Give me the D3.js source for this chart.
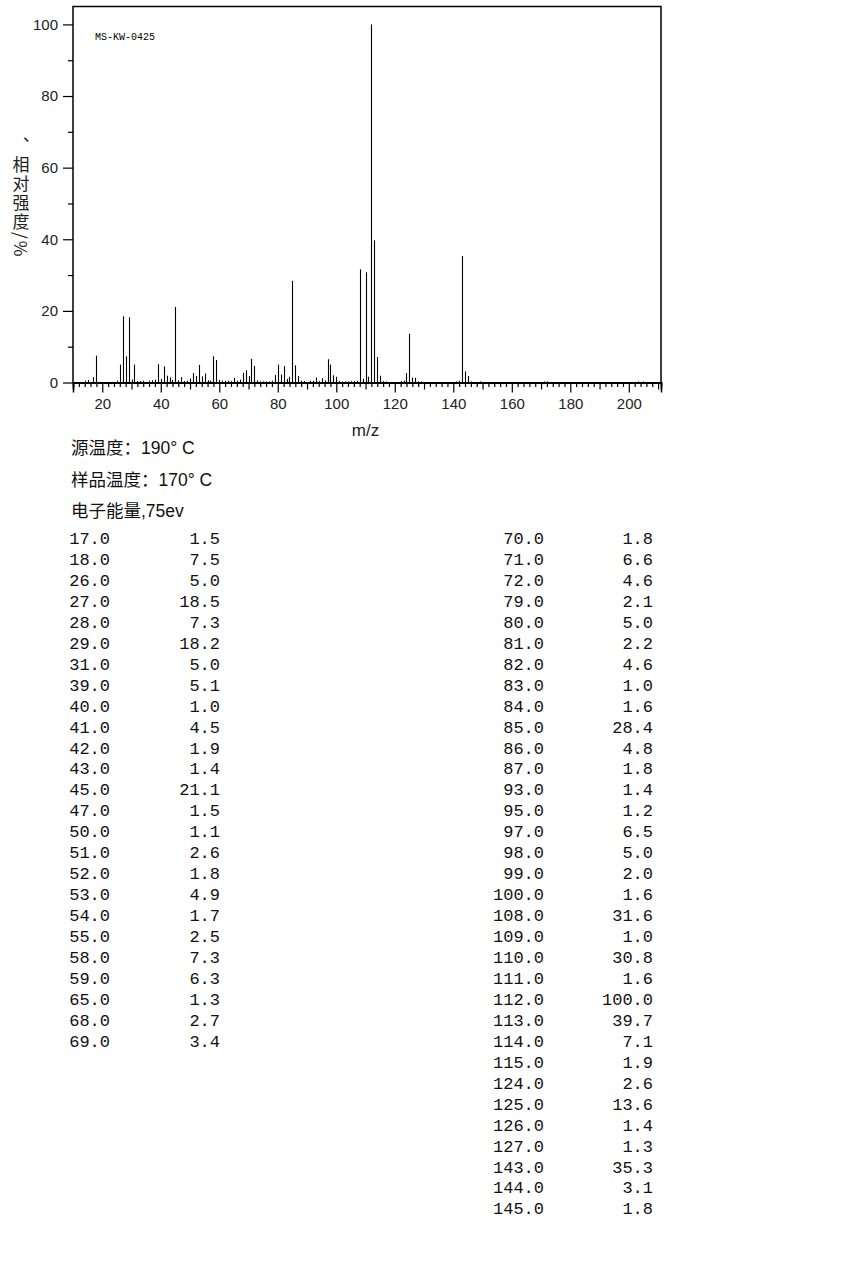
<!DOCTYPE html>
<html>
<head>
<meta charset="utf-8">
<script src="https://cdn.jsdelivr.net/npm/d3@7"></script>
<style>
  body { margin: 0; background: #fff; }
</style>
</head>
<body>
<div id="chart"></div>
<script>
const width = 850
const height = 1276

// listed peaks (m/z, relative intensity %)
const tableMz = [17, 18, 26, 27, 28, 29, 31, 39, 40, 41, 42, 43, 45, 47, 50, 51, 52, 53, 54, 55, 58, 59, 65, 68, 69,
  70, 71, 72, 79, 80, 81, 82, 83, 84, 85, 86, 87, 93, 95, 97, 98, 99, 100, 108, 109, 110, 111, 112, 113, 114, 115,
  124, 125, 126, 127, 143, 144, 145]
const tableInt = [1.5, 7.5, 5.0, 18.5, 7.3, 18.2, 5.0, 5.1, 1.0, 4.5, 1.9, 1.4, 21.1, 1.5, 1.1, 2.6, 1.8, 4.9, 1.7, 2.5, 7.3, 6.3, 1.3, 2.7, 3.4,
  1.8, 6.6, 4.6, 2.1, 5.0, 2.2, 4.6, 1.0, 1.6, 28.4, 4.8, 1.8, 1.4, 1.2, 6.5, 5.0, 2.0, 1.6, 31.6, 1.0, 30.8, 1.6, 100.0, 39.7, 7.1, 1.9,
  2.6, 13.6, 1.4, 1.3, 35.3, 3.1, 1.8]

// small unlisted peaks seen in the plot (< 1 %)
const smallMz = [14, 15, 25, 30, 32, 33, 34, 36, 37, 38, 44, 46, 48, 49, 56, 57, 60, 61, 62, 63, 64, 66, 67, 73, 74, 75, 76, 77, 78,
  88, 89, 91, 92, 94, 96, 101, 102, 103, 104, 105, 106, 107, 116, 117, 122, 123, 128, 129, 141, 142, 146, 149, 171, 172, 203, 205]
const smallInt = [0.5, 0.7, 0.5, 0.8, 0.4, 0.4, 0.5, 0.5, 0.6, 0.8, 0.7, 0.6, 0.4, 0.5, 0.6, 0.5, 0.7, 0.5, 0.5, 0.5, 0.4, 0.5, 0.8, 0.6, 0.3, 0.3, 0.3, 0.3, 0.5,
  0.5, 0.4, 0.5, 0.5, 0.4, 0.6, 0.4, 0.3, 0.3, 0.3, 0.4, 0.4, 0.5, 0.4, 0.3, 0.4, 0.5, 0.3, 0.3, 0.3, 0.5, 0.3, 0.3, 0.3, 0.3, 0.3, 0.3]

const yMajor = [0, 20, 40, 60, 80, 100]
const yMinor = [10, 30, 50, 70, 90]
const xMajor = [20, 40, 60, 80, 100, 120, 140, 160, 180, 200]
const xMid = [10, 30, 50, 70, 90, 110, 130, 150, 170, 190, 210]
const xMinor = d3.range(12, 212, 2).filter((d) => d % 10 !== 0)

const infoLines = ["源温度：190° C", "样品温度：170° C", "电子能量,75ev"]
const sampleId = "MS-KW-0425"
const yLabel = "、相对强度/%"
const xLabel = "m/z"

const xScale = d3.scaleLinear([10, 211], [73, 661])
const yScale = d3.scaleLinear([0, 105], [382.5, 6.5])

const svg = d3.select("#chart").append("svg")
  .attr("width", width)
  .attr("height", height)
  .style("font-family", "'Liberation Sans', Arial, sans-serif")

// frame
svg.append("path")
  .attr("d", `M${xScale(10)},${yScale(0)}V${yScale(105)}H${xScale(211)}V${yScale(0)}`)
  .attr("fill", "none")
  .attr("stroke", "#000")
  .attr("stroke-width", 1.5)

// y axis
const yAxis = svg.append("g")
  .attr("transform", `translate(${xScale(10)},0)`)
  .call(d3.axisLeft(yScale).tickValues(yMajor).tickSize(10).tickPadding(5).tickFormat(d3.format("d")))
yAxis.append("g").call(d3.axisLeft(yScale).tickValues(yMinor).tickSize(5).tickFormat(""))
yAxis.selectAll(".domain").remove()

// x axis
const xAxis = svg.append("g")
  .attr("transform", `translate(0,${yScale(0)})`)
  .call(d3.axisBottom(xScale).tickValues(xMajor).tickSize(10).tickPadding(6).tickFormat(d3.format("d")))
xAxis.append("g").call(d3.axisBottom(xScale).tickValues(xMid).tickSize(7).tickFormat(""))
xAxis.append("g").call(d3.axisBottom(xScale).tickValues(xMinor).tickSize(4.5).tickFormat(""))
xAxis.selectAll(".domain").attr("stroke-width", 1.5)

svg.selectAll(".tick line").attr("stroke", "#000").attr("stroke-width", 1.2)
svg.selectAll(".tick text")
  .style("font-size", "15px")
  .style("font-family", "'Liberation Sans', Arial, sans-serif")
  .attr("fill", "#222")

// peaks
const peaks = tableMz.map((m, i) => ({ m, v: tableInt[i] }))
  .concat(smallMz.map((m, i) => ({ m, v: smallInt[i] })))
svg.append("g")
  .selectAll("line")
  .data(peaks)
  .enter()
  .append("line")
  .attr("x1", (d) => Math.round(xScale(d.m)) + 0.5)
  .attr("x2", (d) => Math.round(xScale(d.m)) + 0.5)
  .attr("y1", yScale(0))
  .attr("y2", (d) => yScale(d.v))
  .attr("stroke", "#000")
  .attr("stroke-width", 1.1)

// labels
svg.append("text")
  .attr("x", 95).attr("y", 40)
  .style("font-family", "'Liberation Mono', monospace")
  .style("font-size", "10px")
  .text(sampleId)

svg.append("text")
  .attr("x", xScale(110)).attr("y", 436)
  .attr("text-anchor", "middle")
  .style("font-size", "17px")
  .attr("fill", "#222")
  .text(xLabel)

svg.append("text")
  .attr("x", 21).attr("y", 137)
  .style("writing-mode", "vertical-rl")
  .style("font-family", "'Noto Sans CJK SC', sans-serif")
  .style("font-size", "17px")
  .style("letter-spacing", "2px")
  .attr("fill", "#222")
  .text(yLabel)

svg.append("g")
  .selectAll("text")
  .data(infoLines)
  .enter()
  .append("text")
  .attr("x", 71)
  .attr("y", (_d, i) => 454 + i * 31.5)
  .style("font-family", "'Liberation Sans', 'Noto Sans CJK SC', sans-serif")
  .style("font-size", "17.5px")
  .attr("fill", "#111")
  .text((d) => d)

// peak table
const rowH = 20.95
const rows = tableMz.map((m, i) => ({ m, v: tableInt[i], col: m < 70 ? 0 : 1 }))
const colRows = [0, 0]
rows.forEach((r) => { r.row = colRows[r.col]++ })
const colX = [[110, 220], [544, 653]]

const table = svg.append("g")
  .style("font-family", "'Liberation Mono', 'Courier New', monospace")
  .style("font-size", "17px")
  .attr("fill", "#111")
  .attr("text-anchor", "end")

table.selectAll("text.mz")
  .data(rows)
  .enter()
  .append("text")
  .attr("class", "mz")
  .attr("x", (d) => colX[d.col][0])
  .attr("y", (d) => 544 + d.row * rowH)
  .text((d) => d.m.toFixed(1))

table.selectAll("text.val")
  .data(rows)
  .enter()
  .append("text")
  .attr("class", "val")
  .attr("x", (d) => colX[d.col][1])
  .attr("y", (d) => 544 + d.row * rowH)
  .text((d) => d.v.toFixed(1))
</script>
</body>
</html>
